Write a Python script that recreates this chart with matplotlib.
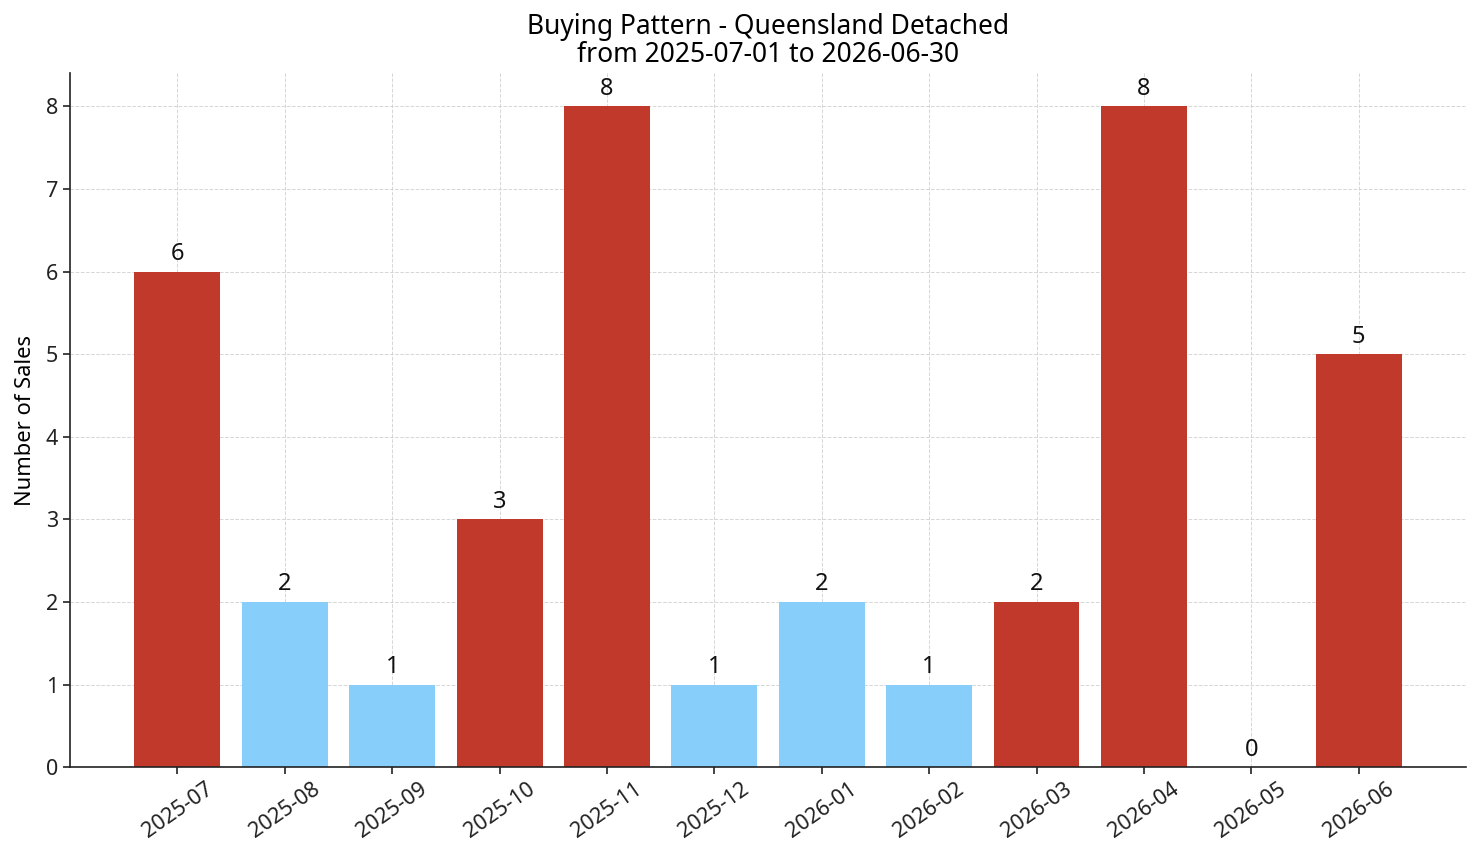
import matplotlib
matplotlib.use("Agg")
import matplotlib.pyplot as plt

plt.rcParams["font.family"] = ["Noto Sans", "DejaVu Sans"]

months = ["2025-07", "2025-08", "2025-09", "2025-10", "2025-11", "2025-12",
          "2026-01", "2026-02", "2026-03", "2026-04", "2026-05", "2026-06"]
sales = [6, 2, 1, 3, 8, 1, 2, 1, 2, 8, 0, 5]
highlight = [True, False, False, True, True, False, False, False, True, True, False, True]

RED = "#c0392b"
BLUE = "#87cefa"

fig = plt.figure(figsize=(14.81, 8.63), dpi=100)
ax = fig.add_axes([0.0473, 0.111, 0.9426, 0.804])
x = list(range(len(months)))
colors = [RED if h else BLUE for h in highlight]
ax.bar(x, sales, width=0.8, color=colors, zorder=2)
for xi, v in zip(x, sales):
    ax.annotate(str(v), (xi, v), xytext=(0, 4), textcoords="offset points",
                ha="center", va="bottom", fontsize=17, color="#111111")

ax.set_xticks(x)
ax.set_xticklabels(months, rotation=35, fontsize=15.5)
ax.tick_params(axis="y", labelsize=15.5)
ax.tick_params(colors="#222222", width=1.2, length=5)
ax.set_xlim(-1.0, 12.0)
ax.set_ylim(0, 8.4)
ax.set_ylabel("Number of Sales", fontsize=15.8, labelpad=7)
ax.set_title("Buying Pattern - Queensland Detached\nfrom 2025-07-01 to 2026-06-30", fontsize=19, linespacing=1.0, pad=8)
ax.grid(True, linestyle="--", color="#cccccc", alpha=0.8, linewidth=0.7, zorder=0)
ax.set_axisbelow(True)
ax.spines["top"].set_visible(False)
ax.spines["right"].set_visible(False)
for s in ("left", "bottom"):
    ax.spines[s].set_linewidth(1.2)
    ax.spines[s].set_color("#222222")

fig.savefig("out.png", dpi=100)
